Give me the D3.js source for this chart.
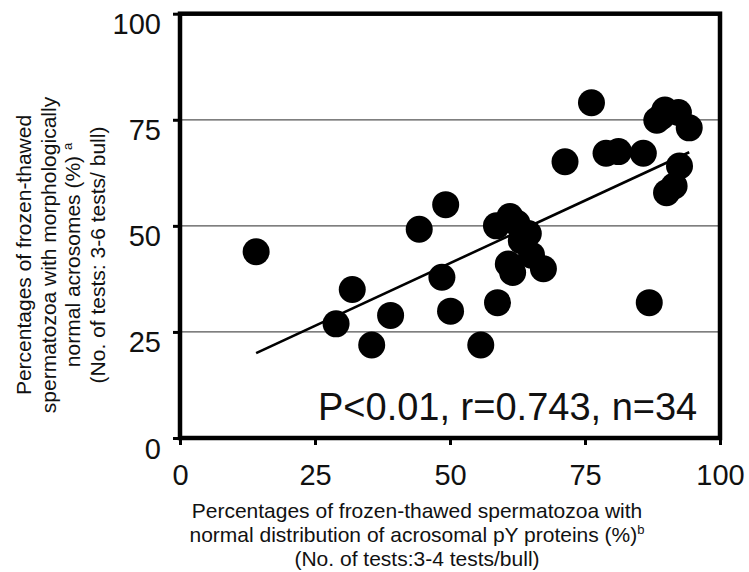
<!DOCTYPE html>
<html>
<head>
<meta charset="utf-8">
<script src="https://cdn.jsdelivr.net/npm/d3@7"></script>
<style>
  body { margin: 0; background: #fff; }
  svg { display: block; }
  text { font-family: "Liberation Sans", Arial, Helvetica, sans-serif; fill: #111; }
</style>
</head>
<body>
<svg id="chart" width="749" height="572"></svg>
<script>
// Per-bull percentages: normal pY-protein distribution (x) vs morphologically normal acrosomes (y)
const pyNormal = [14.1, 44.3, 31.9, 28.9, 39.0, 35.5, 49.2, 58.6, 61.1, 64.5, 65.1, 60.8, 61.6, 67.3,
                  48.5, 50.1, 58.8, 55.7, 76.2, 71.3, 78.9, 81.2, 85.8, 88.3, 89.8, 92.3, 94.3, 92.5,
                  91.5, 90.1, 86.9, 62.4, 63.2, 89.2];
const acrosomeNormal = [43.9, 49.2, 35.0, 26.9, 28.9, 21.9, 55.0, 50.0, 52.2, 48.2, 43.1, 41.0, 39.0, 39.9,
                        37.9, 29.9, 31.9, 21.9, 79.0, 65.1, 67.1, 67.5, 67.1, 74.9, 77.3, 76.7, 73.1, 64.1,
                        59.4, 57.8, 31.9, 50.6, 46.5, 75.8];

const xTicks = [0, 25, 50, 75, 100];
const yTicks = [0, 25, 50, 75, 100];
const gridLevels = [25, 50, 75];

// Least-squares line
const fitSlope = 0.59;
const fitIntercept = 11.7;
const statsText = "P<0.01, r=0.743, n=34";

const xTitleLines = [
  ["Percentages of frozen-thawed spermatozoa with"],
  ["normal distribution of acrosomal pY proteins (%)", "b"],
  ["(No. of tests:3-4 tests/bull)"]
];
const yTitleLines = [
  ["Percentages of frozen-thawed"],
  ["spermatozoa with morphologically"],
  ["normal acrosomes (%) ", "a"],
  ["(No. of tests: 3-6 tests/ bull)"]
];

const svg = d3.select("#chart");
const plotLeft = 180, plotRight = 720, plotTop = 13.7, plotBottom = 438;

const x = d3.scaleLinear().domain([0, 100]).range([plotLeft, plotRight]);
const y = d3.scaleLinear().domain([0, 100]).range([plotBottom, plotTop]);

// horizontal reference lines
svg.append("g")
  .selectAll("line")
  .data(gridLevels)
  .join("line")
  .attr("x1", x(0)).attr("x2", x(100))
  .attr("y1", d => y(d)).attr("y2", d => y(d))
  .attr("stroke", "#555").attr("stroke-width", 1.2);

// axes
const yAxis = svg.append("g")
  .attr("transform", `translate(${plotLeft},0)`)
  .call(d3.axisLeft(y).tickValues(yTicks).tickSize(7).tickPadding(12).tickFormat(d3.format("d")));
yAxis.select(".domain").remove();
yAxis.selectAll(".tick line").attr("stroke", "#000").attr("stroke-width", 3);
yAxis.selectAll(".tick text")
  .attr("dy", "0.69em")
  .style("font-size", "29px")
  .style("font-family", "'Liberation Sans', Arial, sans-serif")
  .attr("fill", "#111");

const xAxis = svg.append("g")
  .attr("transform", `translate(0,${plotBottom})`)
  .call(d3.axisBottom(x).tickValues(xTicks).tickSize(7).tickPadding(19).tickFormat(d3.format("d")));
xAxis.select(".domain").remove();
xAxis.selectAll(".tick line").attr("stroke", "#000").attr("stroke-width", 3);
xAxis.selectAll(".tick text")
  .style("font-size", "29px")
  .style("font-family", "'Liberation Sans', Arial, sans-serif")
  .attr("fill", "#111");

// plot frame
svg.append("rect")
  .attr("x", x(0)).attr("y", y(100))
  .attr("width", x(100) - x(0)).attr("height", y(0) - y(100))
  .attr("fill", "none").attr("stroke", "#000").attr("stroke-width", 4.5);

// regression line over the data range
const [xmin, xmax] = d3.extent(pyNormal);
svg.append("line")
  .attr("x1", x(xmin)).attr("y1", y(fitIntercept + fitSlope * xmin))
  .attr("x2", x(xmax)).attr("y2", y(fitIntercept + fitSlope * xmax))
  .attr("stroke", "#000").attr("stroke-width", 2.6);

// data points
svg.append("g")
  .selectAll("circle")
  .data(d3.zip(pyNormal, acrosomeNormal))
  .join("circle")
  .attr("cx", d => x(d[0]))
  .attr("cy", d => y(d[1]))
  .attr("r", 13.5)
  .attr("fill", "#000");

// statistics annotation
svg.append("text")
  .attr("x", 318).attr("y", 420)
  .style("font-size", "38px")
  .text(statsText);

// x-axis title
const xt = svg.append("text")
  .attr("text-anchor", "middle")
  .style("font-size", "21px");
xTitleLines.forEach((parts, i) => {
  xt.append("tspan").attr("x", 417).attr("y", 518 + i * 24).text(parts[0]);
  if (parts[1]) {
    xt.append("tspan").attr("dy", -8).style("font-size", "13px").text(parts[1]);
  }
});

// y-axis title
const yt = svg.append("text")
  .attr("transform", "rotate(-90)")
  .attr("text-anchor", "middle")
  .style("font-size", "21px");
yTitleLines.forEach((parts, i) => {
  yt.append("tspan").attr("x", -255).attr("y", 31 + i * 24.5).text(parts[0]);
  if (parts[1]) {
    yt.append("tspan").attr("dy", -8).style("font-size", "13px").text(parts[1]);
  }
});
</script>
</body>
</html>
